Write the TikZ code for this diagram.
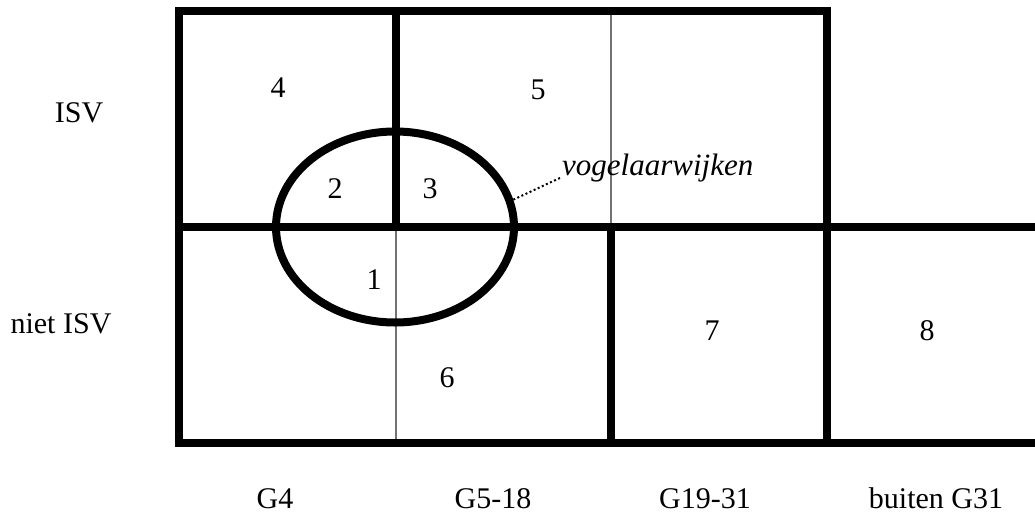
\documentclass[tikz,border=0pt]{standalone}
\usepackage{fontspec}
\setmainfont{Liberation Serif}
\usetikzlibrary{shapes.geometric}
\tikzset{
  heavy/.style={line width=8pt, line cap=butt, line join=miter},
  hair/.style={line width=1.2pt, draw=black!55},
  lbl/.style={inner sep=0pt, anchor=base, font=\fontsize{30}{36}\selectfont},
  ring/.style={ellipse, draw, line width=8pt, minimum width=238pt, minimum height=191pt, inner sep=0pt},
  pointer/.style={line width=2pt, dash pattern=on 2pt off 2.5pt}
}
\begin{document}
\begin{tikzpicture}[x=1pt, y=-1pt]
\useasboundingbox (0,0) rectangle (1035,516);
% grid corners
\coordinate (tl) at (179,11);
\coordinate (br) at (827,443);
\coordinate (ml) at (179,227);
\coordinate (mr) at (1035,227);
\coordinate (bx) at (1035,443);
\coordinate (a1) at (396,11);
\coordinate (a2) at (396,227);
\coordinate (a3) at (396,443);
\coordinate (b1) at (611,11);
\coordinate (b2) at (611,227);
\coordinate (b3) at (611,443);

% thin interior separators
\draw[hair] (a2) -- (a3);
\draw[hair] (b1) -- (b2);

% thick frame and dividers
\draw[heavy] (tl) rectangle (br);
\draw[heavy] (ml) -- (mr);
\draw[heavy] (br) -- (bx);
\draw[heavy] (a1) -- (a2);
\draw[heavy] (b2) -- (b3);

% the ellipse around the centre
\node[ring] (vw) at (395,227) {};

% cell numbers
\node[lbl] (n4) at (278,98) {4};
\node[lbl] (n5) at (538,100) {5};
\node[lbl] (n2) at (335,198) {2};
\node[lbl] (n3) at (430,198) {3};
\node[lbl] (n1) at (374,289) {1};
\node[lbl] (n6) at (447,387) {6};
\node[lbl] (n7) at (712,340) {7};
\node[lbl] (n8) at (927,340) {8};

% row headings
\node[lbl] (isv) at (79,123) {ISV};
\node[lbl] (niet) at (61,333) {niet ISV};

% column headings
\node[lbl] (g4) at (275,508) {G4};
\node[lbl] (g5) at (493,508) {G5-18};
\node[lbl] (g19) at (705,508) {G19-31};
\node[lbl] (g31) at (936,508) {buiten G31};

% ellipse label with dotted pointer
\node[lbl, anchor=base west, font=\fontsize{31}{36}\selectfont] (vl) at (562,175) {\itshape vogelaarwijken};
\draw[pointer] (vw.13) -- ([yshift=-2pt]vl.base west);
\end{tikzpicture}
\end{document}
